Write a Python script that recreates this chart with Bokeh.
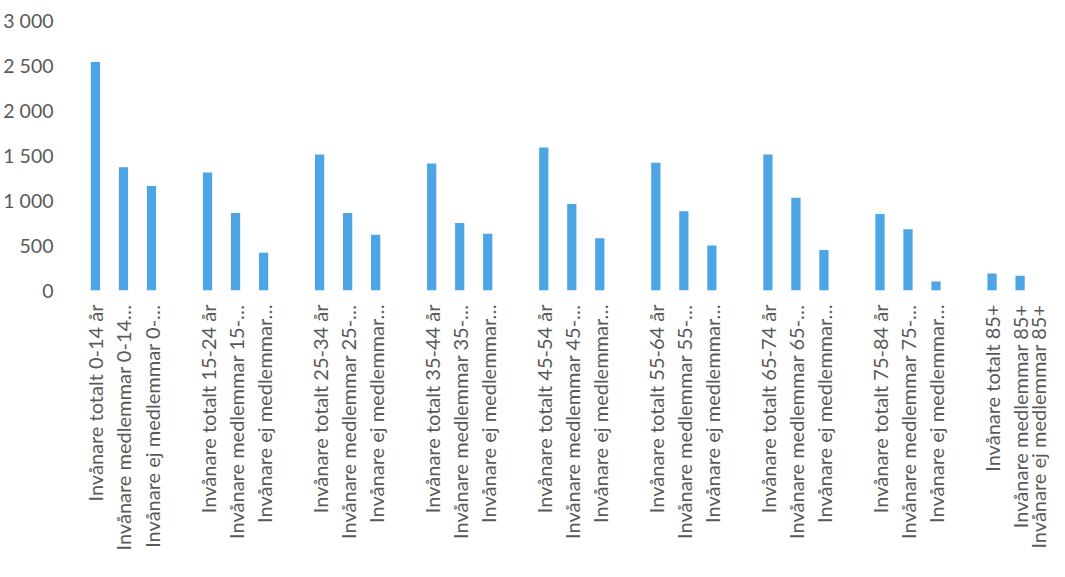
import math
from bokeh.plotting import figure
from bokeh.models import ColumnDataSource, FixedTicker, Range1d
from bokeh.embed import file_html
from bokeh.resources import INLINE

groups = ["0-14", "15-24", "25-34", "35-44", "45-54", "55-64", "65-74", "75-84", "85+"]
labels = [
    "Invånare totalt 0-14 år", "Invånare medlemmar 0-14…", "Invånare ej medlemmar 0-…",
    "Invånare totalt 15-24 år", "Invånare medlemmar 15-…", "Invånare ej medlemmar…",
    "Invånare totalt 25-34 år", "Invånare medlemmar 25-…", "Invånare ej medlemmar…",
    "Invånare totalt 35-44 år", "Invånare medlemmar 35-…", "Invånare ej medlemmar…",
    "Invånare totalt 45-54 år", "Invånare medlemmar 45-…", "Invånare ej medlemmar…",
    "Invånare totalt 55-64 år", "Invånare medlemmar 55-…", "Invånare ej medlemmar…",
    "Invånare totalt 65-74 år", "Invånare medlemmar 65-…", "Invånare ej medlemmar…",
    "Invånare totalt 75-84 år", "Invånare medlemmar 75-…", "Invånare ej medlemmar…",
    "Invånare totalt 85+", "Invånare medlemmar 85+", "Invånare ej medlemmar 85+",
]
totalt = [2540, 1310, 1510, 1410, 1590, 1420, 1510, 850, 190]
medlemmar = [1370, 860, 860, 750, 960, 880, 1030, 680, 165]
ej_medlemmar = [1160, 420, 620, 630, 580, 500, 450, 100, 0]

y_ticks = [0, 500, 1000, 1500, 2000, 2500, 3000]
y_tick_labels = ["0", "500", "1 000", "1 500", "2 000", "2 500", "3 000"]

# positions: 3 bars per group followed by one empty slot
xs, vals = [], []
for g in range(len(groups)):
    for j, series in enumerate([totalt, medlemmar, ej_medlemmar]):
        xs.append(4 * g + j)
        vals.append(series[g])

src = ColumnDataSource(dict(x=xs, top=vals, label=labels))

p = figure(width=1049, height=561, output_backend="svg", toolbar_location=None,
           x_range=Range1d(-0.998, 34.05), y_range=Range1d(0, 3000),
           min_border_left=66, min_border_right=0, min_border_top=20,
           min_border_bottom=271)
p.vbar(x="x", top="top", width=0.33, bottom=0, source=src,
       fill_color="#4EA5E6", line_color=None)

p.outline_line_color = None
p.xgrid.grid_line_color = None
p.ygrid.grid_line_color = None

FONT = "Lato"
p.yaxis.ticker = FixedTicker(ticks=y_ticks)
p.yaxis.major_label_overrides = {t: l for t, l in zip(y_ticks, y_tick_labels)}
p.yaxis.axis_line_color = None
p.yaxis.major_tick_line_color = None
p.yaxis.minor_tick_line_color = None
p.yaxis.major_label_standoff = 8
p.yaxis.major_label_text_font = FONT
p.yaxis.major_label_text_font_size = "19.5px"
p.yaxis.major_label_text_color = "#595959"

p.xaxis.ticker = FixedTicker(ticks=xs)
p.xaxis.major_label_overrides = {x: l for x, l in zip(xs, labels)}
p.xaxis.major_label_orientation = math.pi / 2
p.xaxis.axis_line_color = None
p.xaxis.major_tick_line_color = None
p.xaxis.minor_tick_line_color = None
p.xaxis.major_label_standoff = 8
p.xaxis.major_label_text_font = FONT
p.xaxis.major_label_text_font_size = "20px"
p.xaxis.major_label_text_color = "#595959"

open("out.html", "w").write(file_html(p, INLINE))
